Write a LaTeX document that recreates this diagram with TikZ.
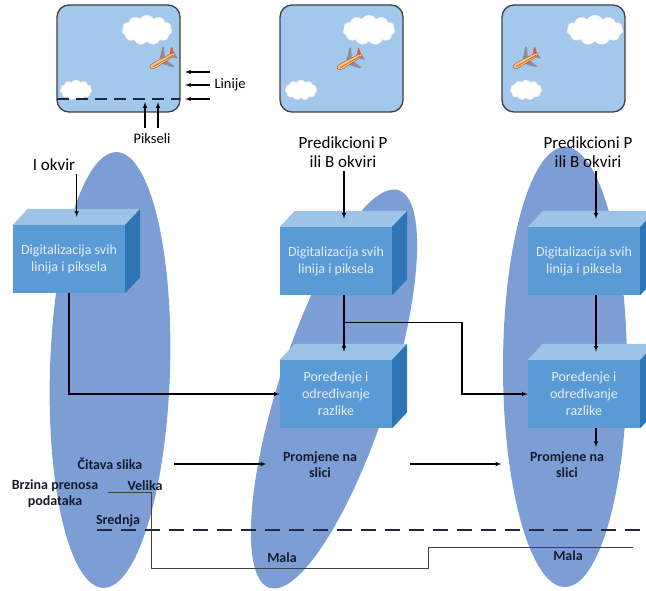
\documentclass[tikz,border=0pt]{standalone}
\usepackage{fontspec}
\setmainfont{Carlito}
\usetikzlibrary{arrows}
\usetikzlibrary{positioning}
\usetikzlibrary{shapes.geometric}
\usetikzlibrary{shapes.symbols}
\definecolor{skyblue}{RGB}{164,199,236}
\definecolor{framegray}{RGB}{64,64,70}
\definecolor{blobblue}{RGB}{125,158,213}
\definecolor{boxfront}{RGB}{91,155,213}
\definecolor{boxtopc}{RGB}{157,195,230}
\definecolor{boxsidec}{RGB}{46,117,182}
\definecolor{boxtext}{RGB}{228,238,249}
\definecolor{navy}{RGB}{30,38,64}
\definecolor{planebody}{RGB}{244,200,120}
\definecolor{planered}{RGB}{222,96,58}
\definecolor{planewing}{RGB}{140,140,158}
\tikzset{arr/.style = {-latex', line width=1.1pt},
         blob/.style = {ellipse, fill=blobblue, inner sep=0pt},
         sky/.style = {draw=framegray, fill=skyblue, line width=1.3pt,
                       rounded corners=12pt, minimum width=123pt, minimum height=107pt},
         puff/.style = {cloud, cloud puffs=11, cloud puff arc=120, cloud ignores aspect,
                        fill=white, draw=gray!18, inner sep=0pt},
         cube/.style = {fill=boxfront, text=boxtext, align=center,
                        minimum width=112pt, minimum height=68pt,
                        font=\fontsize{14}{17}\selectfont},
         boxtop/.style = {fill=boxtopc},
         boxside/.style = {fill=boxsidec},
         head/.style = {align=center, font=\fontsize{17}{19}\selectfont},
         small/.style = {font=\fontsize{14.5}{17}\selectfont},
         tag/.style = {align=center, text=navy!70!black, font=\bfseries\fontsize{14}{16}\selectfont},
         rate/.style = {draw=black!75, line width=0.8pt},
         level/.style = {draw=navy, line width=1.6pt, dash pattern=on 15pt off 9pt},
         plane/.pic = {
           \fill[planewing] (-2,-2.5) -- (8,-13) -- (10,-13) -- (5,-2.5) -- cycle;
           \fill[planewing] (-2,2.5) -- (7,12) -- (9,12) -- (5,2.5) -- cycle;
           \fill[planered] (11,-2) -- (16,-8) -- (17.5,-8) -- (16,-1) -- cycle;
           \fill[planewing] (12,2) -- (16,6) -- (17,6) -- (16,1) -- cycle;
           \fill[planebody, draw=planered!70!black, line width=0.3pt]
             (-15,0) .. controls (-15,-2.5) and (-12,-3) .. (-9,-3) -- (12,-2)
             -- (16,-1) -- (16,1) -- (12,2) -- (-9,3)
             .. controls (-12,3) and (-15,2.5) .. (-15,0);
           \draw[planered, line width=0.8pt] (-12,0.6) -- (14,0.6);
         }}

\begin{document}
\begin{tikzpicture}[x=1pt, y=-1pt]
  \clip (0,0) rectangle (646,591);

  % the three frame regions
  \node[blob, minimum width=120pt, minimum height=436pt, rotate=-1.8] (blob1) at (110,370) {};
  \node[blob, minimum width=110pt, minimum height=418pt, rotate=-18] (blob2) at (334,389) {};
  \node[blob, minimum width=124pt, minimum height=440pt] (blob3) at (565,367) {};

  % video frames
  \node[sky] (sky1) at (118.5,58.5) {};
  \node[sky] (sky2) at (341.5,58.5) {};
  \node[sky] (sky3) at (563.5,58.5) {};

  \node[puff, minimum width=50pt, minimum height=30pt] (cloud1a) at (147,30) {};
  \node[puff, minimum width=32pt, minimum height=20pt] (cloud1b) at (76,90) {};
  \node[puff, minimum width=52pt, minimum height=30pt] (cloud2a) at (369,30) {};
  \node[puff, minimum width=32pt, minimum height=20pt] (cloud2b) at (301,90) {};
  \node[puff, minimum width=56pt, minimum height=30pt] (cloud3a) at (595,30) {};
  \node[puff, minimum width=32pt, minimum height=20pt] (cloud3b) at (526,90) {};

  \pic[rotate=30, scale=0.9] at (162,61) {plane};
  \pic[rotate=30, scale=0.9] at (349,62) {plane};
  \pic[rotate=30, scale=0.9] at (525,61) {plane};

  % scan line, lines and pixels
  \draw[navy, line width=1.5pt, dash pattern=on 12pt off 7pt] (57,99) -- (180,99);
  \node[small, anchor=west] (linije) at (211,85) {Linije};
  \foreach \y in {72,85,99}
    \draw[arr] (210,\y) -- (185,\y);
  \node[small] (pikseli) at (152,139) {Pikseli};
  \foreach \x in {145,158}
    \draw[arr] (\x,128) -- (\x,102);

  % processing blocks
  \node[cube] (dig1) at (69,259) {Digitalizacija svih\\linija i piksela};
  \node[cube] (dig2) at (336,261) {Digitalizacija svih\\linija i piksela};
  \node[cube] (dig3) at (584,261) {Digitalizacija svih\\linija i piksela};
  \node[cube] (cmp2) at (336,394) {Poređenje i\\određivanje\\razlike};
  \node[cube] (cmp3) at (584,394) {Poređenje i\\određivanje\\razlike};

  \foreach \n in {dig1,dig2,dig3,cmp2,cmp3} {
    \fill[boxtop] (\n.north west) -- ++(15,-16) -- ([shift={(15,-16)}]\n.north east)
      -- (\n.north east) -- cycle;
    \fill[boxside] (\n.north east) -- ++(15,-16) -- ([shift={(15,-16)}]\n.south east)
      -- (\n.south east) -- cycle;
    \coordinate (\n-top) at ([shift={(8,-8)}]\n.north);
  }

  \node[head] (iokvir) at (54,165) {I okvir};
  \node[head] (pred2) at (343,152) {Predikcioni P\\ili B okviri};
  \node[head] (pred3) at (588,152) {Predikcioni P\\ili B okviri};

  \draw[arr] ([xshift=-2pt]iokvir.south east) -- ([xshift=-2pt]iokvir.south east |- dig1-top);
  \draw[arr] (dig2-top |- pred2.south) -- (dig2-top);
  \draw[arr] ([xshift=4pt]dig3-top |- pred3.south) -- ([xshift=4pt]dig3-top);

  \draw[arr] (dig1.south) |- (cmp2.west);
  \draw[arr] (dig2-top |- dig2.south) -- coordinate[pos=0.48] (split) (cmp2-top);
  \draw[arr] (split) -- ++(118,0) |- (cmp3.west);
  \draw[arr] ([xshift=4pt]dig3-top |- dig3.south) -- ([xshift=4pt]cmp3-top);

  % results and data rate
  \node[tag] (citava) at (110,464) {Čitava slika};
  \node[tag] (prom1) at (320,465) {Promjene na\\slici};
  \node[tag] (prom2) at (567,465) {Promjene na\\slici};
  \draw[arr] ([xshift=4pt]cmp3-top |- cmp3.south) -- ++(0,19);
  \draw[arr, shorten <=28pt, shorten >=13pt] (citava.east) -- (prom1.west |- citava.east);
  \draw[arr, shorten <=49pt, shorten >=25pt] (prom1.east |- citava.east) -- (prom2.west |- citava.east);

  \node[tag] (brzina) at (55,494) {Brzina prenosa\\podataka};
  \node[tag] (velika) at (145,486) {Velika};
  \node[tag] (srednja) at (118,521) {Srednja};
  \node[tag] (mala1) at (282,558) {Mala};
  \node[tag] (mala2) at (568,556) {Mala};

  \draw[level] (97,530) -- (640,530);
  \draw[rate] (108,492) -| (151,568) -| (428,547) -- (633,547);
\end{tikzpicture}
\end{document}
